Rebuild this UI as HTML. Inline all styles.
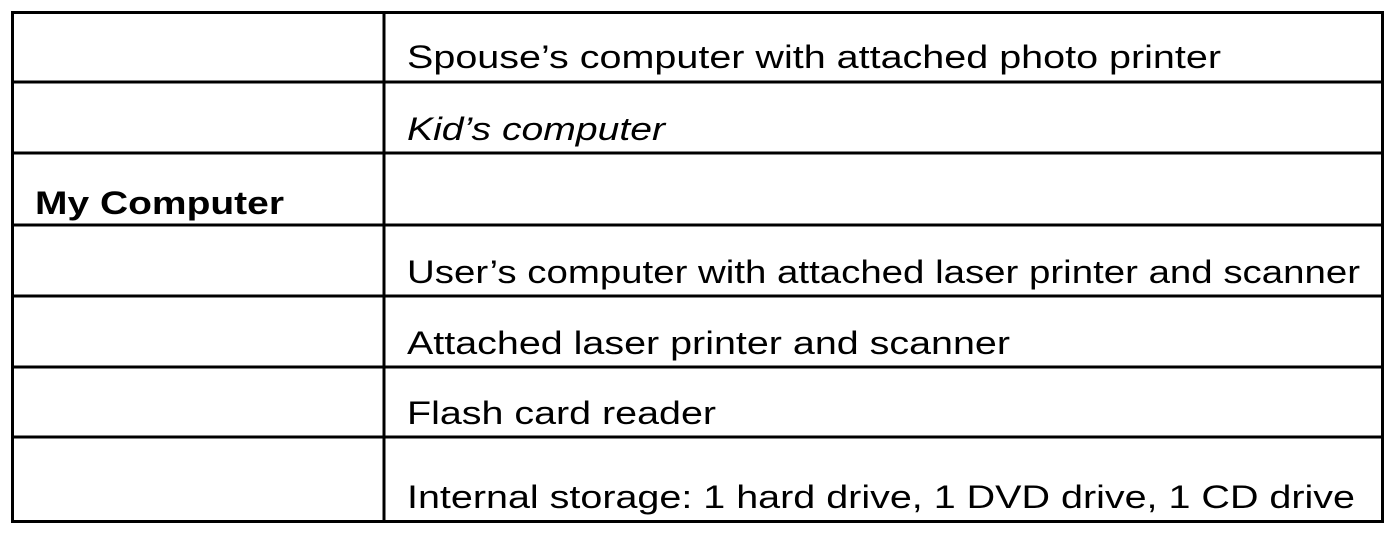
<!DOCTYPE html>
<html><head><style>html,body{margin:0;padding:0;background:#fff;}svg{display:block}</style></head>
<body>
<svg width="1397" height="536" xmlns="http://www.w3.org/2000/svg" font-family="Liberation Sans, Arial, sans-serif" font-size="32" fill="#000">
<g stroke="#000" stroke-width="3" fill="none">
<rect x="12.5" y="12.5" width="1370" height="509"/>
<line x1="384" y1="12" x2="384" y2="522"/>
<line x1="12" y1="82" x2="1383" y2="82"/>
<line x1="12" y1="153" x2="1383" y2="153"/>
<line x1="12" y1="225" x2="1383" y2="225"/>
<line x1="12" y1="296" x2="1383" y2="296"/>
<line x1="12" y1="367" x2="1383" y2="367"/>
<line x1="12" y1="437" x2="1383" y2="437"/>
</g>
<text x="407" y="68" textLength="814" lengthAdjust="spacingAndGlyphs">Spouse’s computer with attached photo printer</text>
<text x="407" y="140" font-style="italic" textLength="258" lengthAdjust="spacingAndGlyphs">Kid’s computer</text>
<text x="35" y="214" font-weight="bold" textLength="249" lengthAdjust="spacingAndGlyphs">My Computer</text>
<text x="407" y="283" textLength="953" lengthAdjust="spacingAndGlyphs">User’s computer with attached laser printer and scanner</text>
<text x="407" y="354" textLength="603" lengthAdjust="spacingAndGlyphs">Attached laser printer and scanner</text>
<text x="407" y="424" textLength="309" lengthAdjust="spacingAndGlyphs">Flash card reader</text>
<text x="407" y="508" textLength="948" lengthAdjust="spacingAndGlyphs">Internal storage: 1 hard drive, 1 DVD drive, 1 CD drive</text>
</svg>
</body></html>
